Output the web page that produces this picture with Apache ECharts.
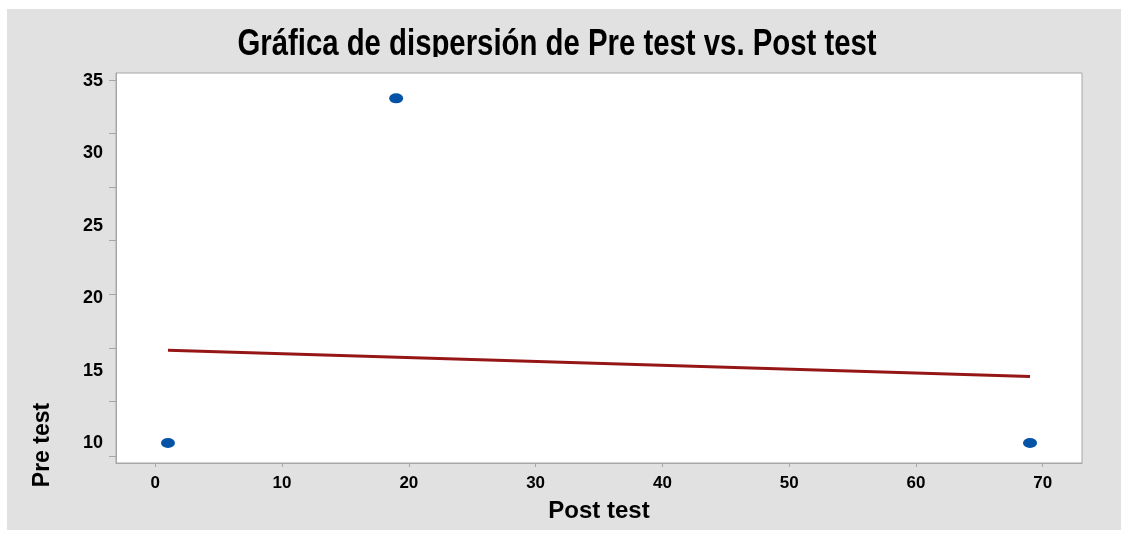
<!DOCTYPE html>
<html>
<head>
<meta charset="utf-8">
<script src="https://cdn.jsdelivr.net/npm/echarts@6/dist/echarts.min.js"></script>
<style>
  html, body { margin: 0; padding: 0; background: #ffffff; }
  #chart {
    position: absolute;
    left: 7px;
    top: 9px;
    width: 1114px;
    height: 521px;
    background: #e1e1e1;
  }
</style>
</head>
<body>
<div id="chart"></div>
<script>
// data
const postTest = [1, 19, 69]
const preTest = [10, 33.8, 10]
const fitX = [1, 69]
const fitY = [16.4, 14.6]
const xTicks = [0, 10, 20, 30, 40, 50, 60, 70]
const yLabels = [10, 15, 20, 25, 30, 35]
// tick marks on the y axis do not sit on the labels in the source
const yTickMarks = [9.1, 12.9, 16.56, 20.29, 24.02, 27.68, 31.41, 35.07]

const chart = echarts.init(document.getElementById('chart'))

const axisGrey = '#a6a6a6'
const labelFont = 'Liberation Sans, Arial, sans-serif'

const option = {
  animation: false,
  backgroundColor: '#e1e1e1',
  grid: {
    left: 109,
    right: 39,
    top: 64,
    bottom: 67,
    show: true,
    backgroundColor: '#ffffff',
    borderColor: axisGrey,
    borderWidth: 1,
  },
  xAxis: {
    type: 'value',
    min: -3.1,
    max: 73.1,
    name: 'Post test',
    nameLocation: 'middle',
    nameGap: 36,
    nameTextStyle: {
      fontFamily: labelFont,
      fontWeight: 'bold',
      fontSize: 24,
      color: '#000',
    },
    axisLine: { show: true, onZero: false, lineStyle: { color: axisGrey } },
    axisTick: { show: true, length: 4, customValues: xTicks, lineStyle: { color: axisGrey } },
    axisLabel: {
      customValues: xTicks,
      margin: 12,
      fontFamily: labelFont,
      fontWeight: 'bold',
      fontSize: 17,
      color: '#000',
    },
    splitLine: { show: false },
  },
  yAxis: {
    type: 'value',
    min: 8.62,
    max: 35.55,
    axisLine: { show: true, onZero: false, lineStyle: { color: axisGrey } },
    axisTick: { show: true, length: 7, customValues: yTickMarks, lineStyle: { color: axisGrey } },
    axisLabel: {
      customValues: yLabels,
      margin: 13,
      fontFamily: labelFont,
      fontWeight: 'bold',
      fontSize: 18,
      color: '#000',
    },
    splitLine: { show: false },
  },
  graphic: [
    {
      type: 'text',
      x: 550,
      y: 36,
      scaleX: 0.815,
      z: 10,
      style: {
        text: 'Gráfica de dispersión de Pre test vs. Post test',
        font: 'bold 36px "Liberation Sans", Arial, sans-serif',
        fill: '#000',
        align: 'center',
        verticalAlign: 'middle',
      },
    },
    {
      // bottom of the title is cut off in the source
      type: 'rect',
      z: 20,
      shape: { x: 0, y: 48, width: 1114, height: 15 },
      style: { fill: '#e1e1e1' },
    },
    {
      type: 'text',
      x: 36,
      y: 436,
      rotation: Math.PI / 2,
      z: 10,
      style: {
        text: 'Pre test',
        font: 'bold 23px "Liberation Sans", Arial, sans-serif',
        fill: '#000',
        align: 'center',
        verticalAlign: 'middle',
      },
    },
    {
      type: 'rect',
      z: 20,
      shape: { x: 0, y: 509, width: 1114, height: 12 },
      style: { fill: '#e1e1e1' },
    },
  ],
  series: [
    {
      type: 'line',
      data: fitX.map((x, i) => [x, fitY[i]]),
      showSymbol: false,
      lineStyle: { color: '#961616', width: 3 },
      z: 2,
    },
    {
      type: 'scatter',
      data: postTest.map((x, i) => [x, preTest[i]]),
      symbol: 'circle',
      symbolSize: [14, 10],
      itemStyle: { color: '#0453a6', opacity: 1 },
      z: 3,
    },
  ],
}

chart.setOption(option)

window.addEventListener('resize', () => chart.resize())
</script>
</body>
</html>
